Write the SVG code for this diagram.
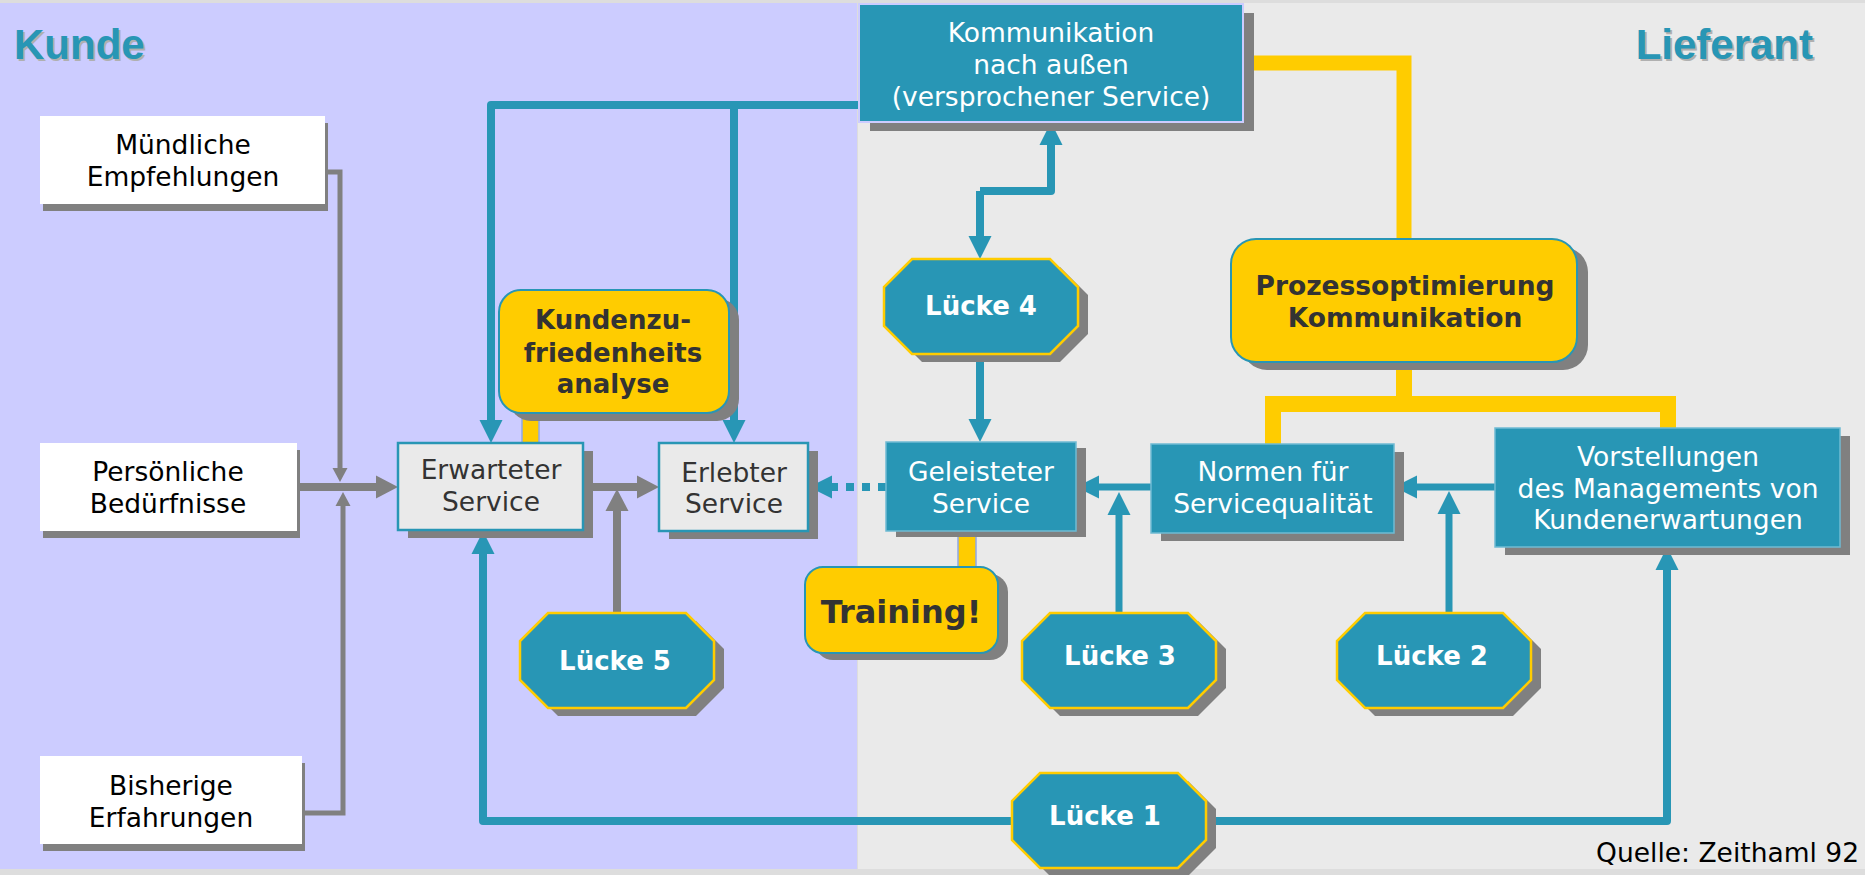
<svg xmlns="http://www.w3.org/2000/svg" xmlns:xlink="http://www.w3.org/1999/xlink" width="1865" height="875" viewBox="0 0 1865 875">
<style>
.t{font-family:"DejaVu Sans",Verdana,sans-serif;font-size:26.5px;text-anchor:middle}
.tb{font-family:"DejaVu Sans",Verdana,sans-serif;font-size:26px;font-weight:bold;text-anchor:middle}
.title{font-family:"Liberation Sans",Arial,sans-serif;font-size:42px;font-weight:bold}
.sh{fill:#808080}
.teal{fill:#2896B5}
.wbox{fill:#FFFFFF}
.gbox{fill:#EAEAEA;stroke:#2896B5;stroke-width:2.5}
.tbox{fill:#2896B5;stroke:#6FBBD3;stroke-width:1.5}
.ybox{fill:#FFCC00;stroke:#2896B5;stroke-width:2}
.oct{fill:#2896B5;stroke:#FFCC00;stroke-width:2.5}
.lt{fill:none;stroke:#2896B5;stroke-width:8;stroke-linejoin:round}
.lg{fill:none;stroke:#808080;stroke-width:8}
.lgs{fill:none;stroke:#808080;stroke-width:5;stroke-linecap:round}
.ly{fill:none;stroke:#FFCC00;stroke-width:15}
.yc{fill:#FFCC00;stroke:#8FA8E8;stroke-width:1.5}
</style>
<defs>
<marker id="ta" markerUnits="userSpaceOnUse" viewBox="0 -12 23 24" refX="0" refY="0" markerWidth="23" markerHeight="24" orient="auto"><path d="M0,-11.5 L23,0 L0,11.5 z" fill="#2896B5"/></marker>
<marker id="ga" markerUnits="userSpaceOnUse" viewBox="0 -12 22 24" refX="0" refY="0" markerWidth="22" markerHeight="24" orient="auto"><path d="M0,-11.5 L22,0 L0,11.5 z" fill="#808080"/></marker>
<marker id="gs" markerUnits="userSpaceOnUse" viewBox="0 -8 14 16" refX="0" refY="0" markerWidth="14" markerHeight="16" orient="auto"><path d="M0,-7.5 L14,0 L0,7.5 z" fill="#808080"/></marker>
<polygon id="oct" points="28,0 166,0 194,28 194,67 166,95 28,95 0,67 0,28"/>
</defs>

<!-- background -->
<rect x="0" y="0" width="1865" height="875" fill="#DDDDDD"/>
<rect x="0" y="3" width="857" height="866" fill="#CCCCFF"/>
<rect x="858" y="3" width="1007" height="866" fill="#EAEAEA"/>

<g id="titles">
<text class="title" x="16" y="61" fill="#B0B0B0">Kunde</text>
<text class="title" x="14" y="59" fill="#2896B5">Kunde</text>
<text class="title" x="1815" y="61" fill="#B0B0B0" text-anchor="end">Lieferant</text>
<text class="title" x="1813" y="59" fill="#2896B5" text-anchor="end">Lieferant</text>
</g>

<g id="connectors">
<!-- yellow -->
<path class="ly" d="M1243,63 H1404 V239"/>
<path class="ly" d="M1404,362 V404" style="stroke-width:16"/>
<path class="ly" d="M1273,444 V404 H1668 V428" style="stroke-width:16"/>
<rect class="yc" x="522" y="412" width="17" height="31"/>
<rect class="yc" x="958" y="531" width="18" height="36"/>
<!-- teal -->
<path class="lt" d="M860,105 H491 V420" marker-end="url(#ta)"/>
<path class="lt" d="M734,105 V420" marker-end="url(#ta)"/>
<path class="lt" d="M980,191 V236" marker-end="url(#ta)"/>
<path class="lt" d="M980,191 H1051 V145" marker-end="url(#ta)"/>
<path class="lt" d="M980,353 V419" marker-end="url(#ta)"/>
<path class="lt" d="M1151,487 H1099" style="stroke-width:7" marker-end="url(#ta)"/>
<path class="lt" d="M1119,613 V515" style="stroke-width:7" marker-end="url(#ta)"/>
<path class="lt" d="M1495,487 H1417" style="stroke-width:7" marker-end="url(#ta)"/>
<path class="lt" d="M1449,614 V514" style="stroke-width:7" marker-end="url(#ta)"/>
<path class="lt" d="M1012,821 H483 V554" marker-end="url(#ta)"/>
<path class="lt" d="M1012,821 H1667 V570" marker-end="url(#ta)"/>
<path class="lt" d="M886,487 H832" style="stroke-dasharray:8 8" marker-end="url(#ta)"/>
<!-- grey -->
<path class="lgs" d="M322,172 H340 V468" marker-end="url(#gs)"/>
<path class="lgs" d="M300,813 H343 V506" marker-end="url(#gs)"/>
<path class="lg" d="M297,487 H376" marker-end="url(#ga)"/>
<path class="lg" d="M583,487 H637" marker-end="url(#ga)"/>
<path class="lg" d="M617,613 V511" marker-end="url(#ga)"/>
</g>

<g id="muendliche">
<rect class="sh" x="43" y="123" width="285" height="88"/>
<rect class="wbox" x="40" y="116" width="285" height="88"/>
<text class="t" x="183" y="154">Mündliche</text>
<text class="t" x="183" y="186">Empfehlungen</text>
</g>

<g id="persoenliche">
<rect class="sh" x="43" y="450" width="257" height="88"/>
<rect class="wbox" x="40" y="443" width="257" height="88"/>
<text class="t" x="168" y="481">Persönliche</text>
<text class="t" x="168" y="513">Bedürfnisse</text>
</g>

<g id="bisherige">
<rect class="sh" x="43" y="763" width="262" height="88"/>
<rect class="wbox" x="40" y="756" width="262" height="88"/>
<text class="t" x="171" y="795">Bisherige</text>
<text class="t" x="171" y="827">Erfahrungen</text>
</g>

<g id="erwarteter">
<rect class="sh" x="408" y="451" width="185" height="87"/>
<rect class="gbox" x="398" y="443" width="185" height="87"/>
<text class="t" x="491" y="479" fill="#333333">Erwarteter</text>
<text class="t" x="491" y="511" fill="#333333">Service</text>
</g>

<g id="erlebter">
<rect class="sh" x="669" y="451" width="149" height="88"/>
<rect class="gbox" x="659" y="443" width="149" height="88"/>
<text class="t" x="734" y="482" fill="#333333">Erlebter</text>
<text class="t" x="734" y="513" fill="#333333">Service</text>
</g>

<g id="kundenzufriedenheit">
<rect class="sh" x="509" y="298" width="230" height="123" rx="22"/>
<rect class="ybox" x="499" y="290" width="230" height="123" rx="22"/>
<text class="tb" x="613" y="329" fill="#333333">Kundenzu-</text>
<text class="tb" x="613" y="362" fill="#333333">friedenheits</text>
<text class="tb" x="613" y="393" fill="#333333">analyse</text>
</g>

<g id="kommunikation">
<rect class="sh" x="870" y="13" width="384" height="118"/>
<rect x="859" y="4" width="384" height="118" fill="#2896B5" stroke="#CCCCFF" stroke-width="2"/>
<text class="t" x="1051" y="42" fill="#FFFFFF">Kommunikation</text>
<text class="t" x="1051" y="74" fill="#FFFFFF">nach außen</text>
<text class="t" x="1051" y="106" fill="#FFFFFF">(versprochener Service)</text>
</g>

<g id="prozess">
<rect class="sh" x="1242" y="247" width="346" height="123" rx="25"/>
<rect class="ybox" x="1231" y="239" width="346" height="123" rx="25"/>
<text class="tb" x="1405" y="295" fill="#333333" style="font-size:26.5px">Prozessoptimierung</text>
<text class="tb" x="1405" y="327" fill="#333333" style="font-size:26.5px">Kommunikation</text>
</g>

<g id="geleisteter">
<rect class="sh" x="896" y="448" width="190" height="89"/>
<rect class="tbox" x="886" y="442" width="190" height="89"/>
<text class="t" x="981" y="481" fill="#FFFFFF">Geleisteter</text>
<text class="t" x="981" y="513" fill="#FFFFFF">Service</text>
</g>

<g id="normen">
<rect class="sh" x="1161" y="452" width="243" height="89"/>
<rect class="tbox" x="1151" y="444" width="243" height="89"/>
<text class="t" x="1273" y="481" fill="#FFFFFF">Normen für</text>
<text class="t" x="1273" y="513" fill="#FFFFFF">Servicequalität</text>
</g>

<g id="vorstellungen">
<rect class="sh" x="1505" y="436" width="345" height="119"/>
<rect class="tbox" x="1495" y="428" width="345" height="119"/>
<text class="t" x="1668" y="466" fill="#FFFFFF">Vorstellungen</text>
<text class="t" x="1668" y="498" fill="#FFFFFF">des Managements von</text>
<text class="t" x="1668" y="529" fill="#FFFFFF">Kundenerwartungen</text>
</g>

<g id="training">
<rect class="sh" x="815" y="574" width="193" height="86" rx="18"/>
<rect class="ybox" x="805" y="567" width="193" height="86" rx="18"/>
<text class="tb" x="901" y="623" fill="#333333" style="font-size:32px">Training!</text>
</g>

<g id="luecke4">
<use href="#oct" class="sh" x="894" y="267"/>
<use href="#oct" class="oct" x="884" y="259"/>
<text class="tb" x="981" y="315" fill="#FFFFFF">Lücke 4</text>
</g>

<g id="luecke5">
<use href="#oct" class="sh" x="530" y="621"/>
<use href="#oct" class="oct" x="520" y="613"/>
<text class="tb" x="615" y="670" fill="#FFFFFF">Lücke 5</text>
</g>

<g id="luecke3">
<use href="#oct" class="sh" x="1032" y="621"/>
<use href="#oct" class="oct" x="1022" y="613"/>
<text class="tb" x="1120" y="665" fill="#FFFFFF">Lücke 3</text>
</g>

<g id="luecke2">
<use href="#oct" class="sh" x="1347" y="621"/>
<use href="#oct" class="oct" x="1337" y="613"/>
<text class="tb" x="1432" y="665" fill="#FFFFFF">Lücke 2</text>
</g>

<g id="luecke1">
<use href="#oct" class="sh" x="1022" y="781"/>
<use href="#oct" class="oct" x="1012" y="773"/>
<text class="tb" x="1105" y="825" fill="#FFFFFF">Lücke 1</text>
</g>

<g id="quelle">
<text class="t" x="1859" y="862" fill="#000000" style="text-anchor:end">Quelle: Zeithaml 92</text>
</g>
</svg>
